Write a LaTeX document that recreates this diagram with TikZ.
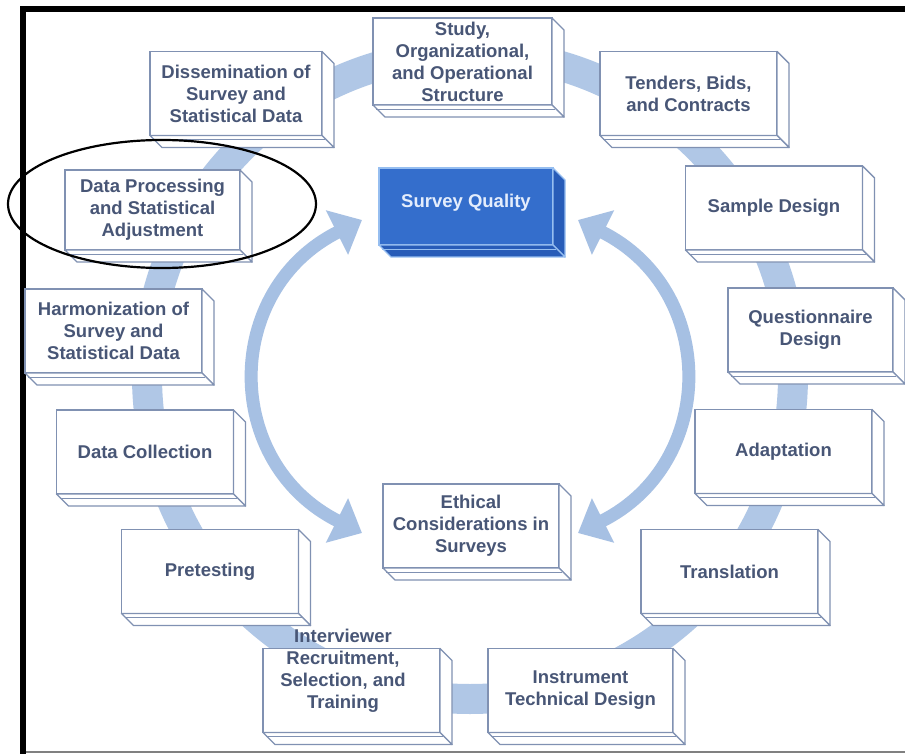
\documentclass[tikz,border=0pt]{standalone}
\usepackage{fontspec}
\setmainfont{Liberation Sans}
\usetikzlibrary{arrows.meta}
\definecolor{ringblue}{RGB}{176,199,230}
\definecolor{arcblue}{RGB}{166,192,227}
\definecolor{edgegray}{RGB}{128,145,178}
\definecolor{txtblue}{RGB}{72,86,118}
\definecolor{sqblue}{RGB}{52,110,204}
\definecolor{sqdark}{RGB}{40,92,184}
\definecolor{sqedge}{RGB}{150,190,240}
\definecolor{sqtext}{RGB}{228,237,252}
\tikzset{
  labeltext/.style={text=txtblue, align=center, inner sep=0pt, font=\fontsize{18.5}{22}\selectfont\bfseries},
  stage/.style={labeltext, draw=edgegray, fill=white, line width=1.4pt, minimum width=177pt, minimum height=84pt, outer sep=0pt},
  stageface/.style={draw=edgegray, fill=white, line width=1.4pt, line join=round},
  qualitybox/.style={stage, fill=sqblue, draw=sqedge, text=sqtext},
  qualityface/.style={draw=sqedge, fill=sqdark, line width=1.4pt, line join=round},
  ringband/.style={draw=ringblue, line width=30pt},
  bigarc/.style={draw=arcblue, line width=13pt, {Triangle[width=48pt,length=28pt]}-{Triangle[width=48pt,length=28pt]}},
  frameline/.style={fill=black},
}
\newcommand\boxsides[2]{%
  \draw[#2] (#1.north east) -- ++(12,12) -- ([shift={(12,12)}]#1.south east) -- (#1.south east) -- cycle;
  \draw[#2] (#1.south west) -- (#1.south east) -- ++(12,12) -- ([shift={(12,12)}]#1.south west) -- cycle;
  \draw[#2, fill=none, line width=0.9pt] ([shift={(3,4)}]#1.south west) -- ([shift={(3,4)}]#1.south east);
}
\begin{document}
\begin{tikzpicture}[x=1pt, y=-1pt]
\useasboundingbox (0,0) rectangle (905,754);
\fill[white] (0,0) rectangle (905,754);
% outer ring
\draw[ringband] (470,376) circle [radius=323];
% frame
\fill[frameline] (20,6) rectangle (905,12);
\fill[frameline] (20,6) rectangle (26,754);
\draw[gray, line width=1.5pt] (26,752) -- (905,752);
% stages
\node[stage, minimum width=179pt, minimum height=87pt] (study) at (462.5,61.5) {Study,\\Organizational,\\and Operational\\Structure};
\boxsides{study}{stageface}
\node[stage] (tenders) at (688.5,93.5) {Tenders, Bids,\\and Contracts};
\boxsides{tenders}{stageface}
\node[stage] (sample) at (774,208) {Sample Design};
\boxsides{sample}{stageface}
\node[stage, minimum width=165pt] (quest) at (810.5,330) {Questionnaire\\Design};
\boxsides{quest}{stageface}
\node[stage] (adapt) at (783.5,451.5) {Adaptation};
\boxsides{adapt}{stageface}
\node[stage] (transl) at (729.5,571.5) {Translation};
\boxsides{transl}{stageface}
\node[stage, minimum width=185pt] (instr) at (580.5,690.5) {Instrument\\Technical Design};
\boxsides{instr}{stageface}
\node[stage] (interv) at (351.5,690.5) {};
\boxsides{interv}{stageface}
\node[labeltext] (intervtext) at (343,671) {Interviewer\\Recruitment,\\Selection, and\\Training};
\node[stage] (pretest) at (210,571.5) {Pretesting};
\boxsides{pretest}{stageface}
\node[stage] (collect) at (145,452) {Data Collection};
\boxsides{collect}{stageface}
\node[stage] (harmon) at (113.5,331) {Harmonization of\\Survey and\\Statistical Data};
\boxsides{harmon}{stageface}
\node[stage, minimum width=175pt, minimum height=80pt] (proc) at (152.5,210) {Data Processing\\and Statistical\\Adjustment};
\boxsides{proc}{stageface}
\node[stage, minimum width=172pt] (dissem) at (236,93.5) {Dissemination of\\Survey and\\Statistical Data};
\boxsides{dissem}{stageface}
% centre
\node[qualitybox, minimum width=174pt, minimum height=77pt] (quality) at (466,206.5) {};
\boxsides{quality}{qualityface}
\node[labeltext, text=sqtext] (qualitytext) at (466,203) {Survey Quality};
\node[stage, minimum width=176pt] (ethics) at (471,526) {Ethical\\Considerations in\\Surveys};
\boxsides{ethics}{stageface}
% big curved arrows
\coordinate (lt) at (362,220);
\coordinate (lb) at (362,533);
\coordinate (rt) at (578,220);
\coordinate (rb) at (578,533);
\draw[bigarc] (lt) .. controls (222,290) and (222,463) .. (lb);
\draw[bigarc] (rt) .. controls (718,290) and (718,463) .. (rb);
% highlight ellipse
\draw[black, line width=2.2pt] (162,204) ellipse [x radius=154, y radius=64];
\end{tikzpicture}
\end{document}
